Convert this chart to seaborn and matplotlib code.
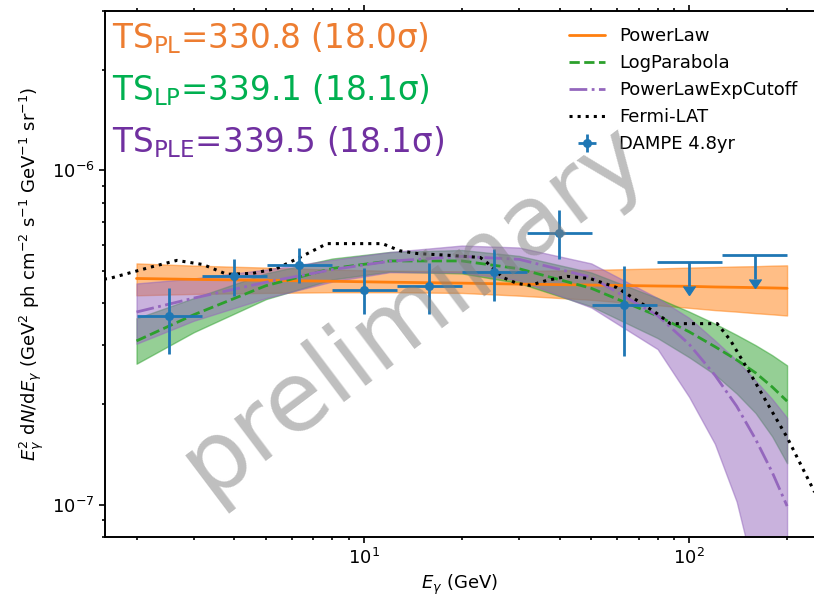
import numpy as np
import matplotlib
matplotlib.use("Agg")
import matplotlib.pyplot as plt
import seaborn as sns

# Energies (GeV) where the fitted spectral models are sampled
E_model = [2, 3, 5, 8, 12, 20, 30, 50, 80, 100, 120, 140, 160, 180, 200]

# Model curves and 1-sigma bands, E^2 dN/dE in units of 1e-7
pl_line = [4.75, 4.72, 4.69, 4.66, 4.63, 4.60, 4.57, 4.54, 4.51, 4.50, 4.48, 4.47, 4.46, 4.45, 4.44]
pl_upper = [5.27, 5.19, 5.12, 5.05, 5.01, 4.99, 5.00, 5.04, 5.09, 5.12, 5.14, 5.16, 5.17, 5.19, 5.20]
pl_lower = [4.23, 4.27, 4.30, 4.32, 4.32, 4.30, 4.22, 4.10, 3.95, 3.88, 3.82, 3.78, 3.74, 3.71, 3.68]

lp_line = [3.09, 3.70, 4.52, 5.09, 5.36, 5.36, 5.08, 4.44, 3.67, 3.29, 2.97, 2.71, 2.48, 2.25, 2.04]
lp_upper = [3.61, 4.15, 4.92, 5.45, 5.70, 5.78, 5.55, 4.95, 4.15, 3.78, 3.48, 3.22, 3.00, 2.80, 2.61]
lp_lower = [2.64, 3.28, 4.12, 4.72, 4.98, 4.92, 4.60, 3.92, 3.15, 2.76, 2.45, 2.15, 1.88, 1.60, 1.33]

ple_line = [3.77, 4.15, 4.63, 5.05, 5.35, 5.53, 5.42, 4.79, 3.68, 3.02, 2.44, 1.97, 1.57, 1.25, 0.99]
ple_upper = [4.59, 4.75, 5.05, 5.40, 5.70, 5.96, 5.88, 5.27, 4.15, 3.62, 3.10, 2.70, 2.35, 2.07, 1.82]
ple_lower = [3.03, 3.55, 4.15, 4.65, 4.96, 4.95, 4.69, 3.89, 2.92, 2.10, 1.52, 1.02, 0.60, 0.35, 0.20]

# Fermi-LAT spectrum
fermi_E = [1.5, 1.65, 2.20, 2.66, 3.20, 3.79, 4.55, 5.40, 6.35, 7.70, 11.4, 12.9, 14.6, 18.4,
           22.8, 23.9, 26.8, 29.6, 32.4, 36.6, 42.2, 49.5, 60.0, 69.2, 79.7, 87.5, 122,
           134, 154, 177, 200, 243]
fermi_flux = [4.70, 4.75, 5.13, 5.38, 5.23, 4.89, 4.92, 5.09, 5.49, 6.04, 6.04, 5.75, 5.64, 5.57,
              5.49, 5.30, 4.78, 4.59, 4.53, 4.69, 4.82, 4.75, 4.46, 4.08, 3.73, 3.48, 3.48,
              3.10, 2.47, 1.95, 1.59, 1.09]

# DAMPE 4.8yr flux points
bin_edges = [2.0, 3.17, 5.02, 7.96, 12.6, 20.0, 31.7, 50.2, 79.6, 126, 200]
dampe_E = [2.52, 3.99, 6.32, 10.0, 15.9, 25.2, 39.9, 63.2]
dampe_flux = [3.66, 4.82, 5.23, 4.40, 4.50, 4.95, 6.52, 3.97]
dampe_err_lo = [0.83, 0.62, 0.64, 0.69, 0.77, 0.87, 1.07, 1.18]
dampe_err_hi = [0.80, 0.60, 0.65, 0.69, 0.77, 0.85, 1.12, 1.19]

# DAMPE upper limits
ul_E = [100, 159]
ul_flux = [5.31, 5.57]
ul_arrow = [0.81, 0.85]

ts_labels = [r'TS$_\mathregular{PL}$=330.8 (18.0σ)',
             r'TS$_\mathregular{LP}$=339.1 (18.1σ)',
             r'TS$_\mathregular{PLE}$=339.5 (18.1σ)']
ts_colors = ['#ed7d31', '#00b050', '#7030a0']

unit = 1e-7
E = np.array(E_model)

sns.set_style("ticks")
plt.rcParams.update({'text.color': 'black', 'axes.labelcolor': 'black',
                     'xtick.color': 'black', 'ytick.color': 'black',
                     'axes.edgecolor': 'black'})
fig, ax = plt.subplots(figsize=(8.14, 5.97), dpi=100)
fig.subplots_adjust(left=105 / 814, right=1.0, bottom=1 - 537 / 597, top=1 - 11 / 597)
ax.set_xscale('log')
ax.set_yscale('log')

# Uncertainty bands
ax.fill_between(E, np.array(pl_lower) * unit, np.array(pl_upper) * unit, color='C1', alpha=0.5)
ax.fill_between(E, np.array(lp_lower) * unit, np.array(lp_upper) * unit, color='C2', alpha=0.5)
ax.fill_between(E, np.array(ple_lower) * unit, np.array(ple_upper) * unit, color='C4', alpha=0.5)

# Best-fit models
sns.lineplot(x=E, y=np.array(pl_line) * unit, ax=ax, color='C1', lw=2, label='PowerLaw')
sns.lineplot(x=E, y=np.array(lp_line) * unit, ax=ax, color='C2', lw=2, linestyle='--', label='LogParabola')
sns.lineplot(x=E, y=np.array(ple_line) * unit, ax=ax, color='C4', lw=2, linestyle='-.',
             label='PowerLawExpCutoff')
sns.lineplot(x=np.array(fermi_E), y=np.array(fermi_flux) * unit, ax=ax, color='k', lw=2.2,
             linestyle=':', label='Fermi-LAT')

# DAMPE points
edges = np.array(bin_edges)
xe = np.array(dampe_E)
ax.errorbar(xe, np.array(dampe_flux) * unit,
            xerr=[xe - edges[:8], edges[1:9] - xe],
            yerr=[np.array(dampe_err_lo) * unit, np.array(dampe_err_hi) * unit],
            fmt='o', color='C0', ms=5.5, elinewidth=2, capsize=0, label='DAMPE 4.8yr', zorder=5)

xu = np.array(ul_E)
ul = ax.errorbar(xu, np.array(ul_flux) * unit,
                 xerr=[xu - edges[8:10], edges[9:11] - xu],
                 yerr=np.array(ul_arrow) * unit, uplims=True,
                 fmt='none', ecolor='C0', elinewidth=2, capsize=0, zorder=5)
for cl in ul[1]:
    cl.set_markersize(9)
    cl.set_color('C0')

ax.set_xlim(1.6, 242)
ax.set_ylim(8e-8, 3e-6)
ax.spines['right'].set_visible(False)
ax.tick_params(which='both', top=True, labelsize=13, width=1.2)
ax.tick_params(which='major', length=4)
ax.tick_params(which='minor', length=2.5)
for s in ['left', 'bottom', 'top']:
    ax.spines[s].set_linewidth(1.4)

ax.set_xlabel(r'$E_\gamma$ (GeV)', fontsize=13)
ax.set_ylabel(r'$E_\gamma^2$ d$N$/d$E_\gamma$ (GeV$^2$ ph cm$^{-2}$ s$^{-1}$ GeV$^{-1}$ sr$^{-1}$)',
              fontsize=13)

handles, labels = ax.get_legend_handles_labels()
ax.legend(handles, labels, loc='upper right', frameon=False, fontsize=13)

# TS values
for i, (txt, c) in enumerate(zip(ts_labels, ts_colors)):
    ax.text(0.01, 0.93 - i * 0.099, txt, transform=ax.transAxes, color=c, fontsize=23.5,
            family='DejaVu Sans', va='baseline', ha='left')

fig.text(414 / 814, 1 - 310 / 597, 'preliminary', rotation=37, ha='center', va='center',
         fontsize=70, color='gray', alpha=0.5, zorder=10)

fig.savefig('out.png', dpi=100)
